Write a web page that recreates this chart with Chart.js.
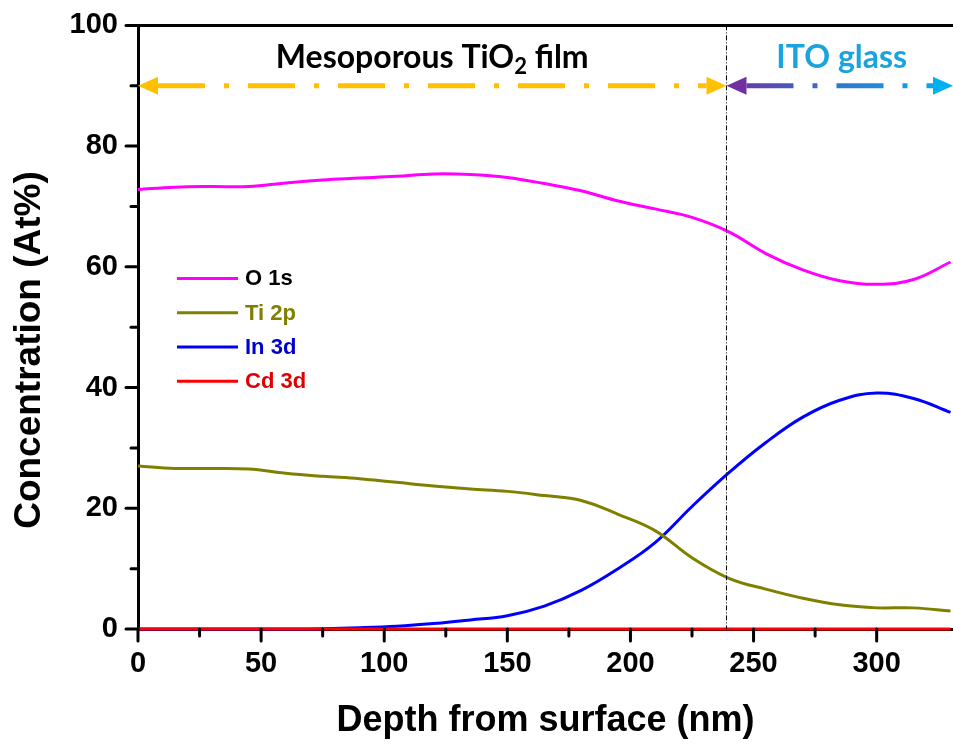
<!DOCTYPE html>
<html>
<head>
<meta charset="utf-8">
<script src="https://cdn.jsdelivr.net/npm/chart.js@4.4.0/dist/chart.umd.min.js"></script>
<style>
  html, body { margin: 0; padding: 0; background: #fff; }
  #wrap { width: 953px; height: 747px; }
</style>
</head>
<body>
<div id="wrap"><canvas id="depthChart"></canvas></div>
<script>
// --- Data ---
const depth = [0, 15, 30, 45, 60, 75, 90, 105, 120, 135, 150, 165, 180, 195, 210, 225, 240, 255, 270, 285, 300, 315, 330];
const o1s   = [72.8, 73.2, 73.3, 73.3, 73.9, 74.4, 74.7, 75.0, 75.4, 75.3, 74.8, 73.8, 72.6, 70.9, 69.6, 68.2, 65.8, 62.2, 59.5, 57.7, 57.1, 57.9, 60.8];
const ti2p  = [27.0, 26.6, 26.6, 26.5, 25.8, 25.3, 24.9, 24.3, 23.7, 23.2, 22.8, 22.1, 21.3, 19.0, 16.3, 11.8, 8.4, 6.6, 5.1, 4.0, 3.5, 3.5, 3.0];
const in3d  = [0, 0, 0, 0, 0, 0.05, 0.2, 0.45, 0.9, 1.5, 2.2, 3.8, 6.4, 10.0, 14.3, 20.3, 25.9, 30.9, 35.1, 37.9, 39.1, 38.2, 35.9];
const cd3d  = [0, 0, 0, 0, 0, 0, 0, 0, 0, 0, 0, 0, 0, 0, 0, 0, 0, 0, 0, 0, 0, 0, 0];
const seriesNames = ['O 1s', 'Ti 2p', 'In 3d', 'Cd 3d'];
const seriesColors = ['#ff00ff', '#808000', '#0000ff', '#ff0000'];
const legendTextColors = ['#000000', '#808000', '#0000d0', '#e00000'];

const xMax = 331;
const interfaceDepth = 239;   // film / ITO boundary
const arrowLevel = 90;        // concentration where the region arrows sit

const toPoints = arr => arr.map((v, i) => ({ x: depth[i], y: v }));

// --- Decorations: ticks, frame, region arrows, legend ---
function drawArrow(ctx, x1, x2, y, stroke, headFill1, headFill2) {
    const head = 20, half = 9;
    ctx.save();
    ctx.lineWidth = 5;
    ctx.strokeStyle = stroke;
    ctx.setLineDash([47, 19, 5, 19]);
    ctx.beginPath();
    ctx.moveTo(x1 + head, y);
    ctx.lineTo(x2 - head, y);
    ctx.stroke();
    ctx.setLineDash([]);
    ctx.fillStyle = headFill1;
    ctx.beginPath();
    ctx.moveTo(x1, y); ctx.lineTo(x1 + head, y - half); ctx.lineTo(x1 + head, y + half); ctx.closePath();
    ctx.fill();
    ctx.fillStyle = headFill2;
    ctx.beginPath();
    ctx.moveTo(x2, y); ctx.lineTo(x2 - head, y - half); ctx.lineTo(x2 - head, y + half); ctx.closePath();
    ctx.fill();
    ctx.restore();
}

const decorations = {
    id: 'decorations',
    afterDraw(chart) {
        const ctx = chart.ctx;
        const xs = chart.scales.x, ys = chart.scales.y;
        const area = chart.chartArea;

        ctx.save();
        ctx.strokeStyle = '#000';
        ctx.lineWidth = 3;
        ctx.lineCap = 'round';
        // tick marks (major long, minor short)
        xs.ticks.forEach(t => {
            const len = t.value % 50 === 0 ? 12 : 7;
            const p = xs.getPixelForValue(t.value);
            ctx.beginPath(); ctx.moveTo(p, area.bottom); ctx.lineTo(p, area.bottom + len); ctx.stroke();
        });
        ys.ticks.forEach(t => {
            const len = t.value % 20 === 0 ? 12 : 7;
            const p = ys.getPixelForValue(t.value);
            ctx.beginPath(); ctx.moveTo(area.left, p); ctx.lineTo(area.left - len, p); ctx.stroke();
        });
        // top frame line
        ctx.lineCap = 'butt';
        ctx.beginPath(); ctx.moveTo(area.left - 1, area.top); ctx.lineTo(area.right, area.top); ctx.stroke();

        // interface marker
        const xi = xs.getPixelForValue(interfaceDepth);
        ctx.lineWidth = 1;
        ctx.setLineDash([5, 2, 1, 2]);
        ctx.beginPath(); ctx.moveTo(xi, area.top); ctx.lineTo(xi, area.bottom); ctx.stroke();
        ctx.setLineDash([]);
        ctx.restore();

        // y axis title, drawn by hand so it can sit a little below centre like the original
        ctx.save();
        ctx.translate(30, 350);
        ctx.rotate(-Math.PI / 2);
        ctx.font = 'bold 37px "Liberation Sans"';
        ctx.fillStyle = '#000';
        ctx.textAlign = 'center';
        ctx.textBaseline = 'middle';
        ctx.fillText('Concentration (At%)', 0, 0);
        ctx.restore();

        // region arrows
        const ya = ys.getPixelForValue(arrowLevel);
        const x0 = xs.getPixelForValue(0);
        const xe = xs.getPixelForValue(xMax);
        drawArrow(ctx, x0, xi, ya, '#ffc000', '#ffc000', '#ffc000');
        const grad = ctx.createLinearGradient(xi, 0, xe, 0);
        grad.addColorStop(0, '#7030a0');
        grad.addColorStop(0.5, '#2f78d0');
        grad.addColorStop(1, '#00b0f0');
        drawArrow(ctx, xi, xe, ya, grad, '#7030a0', '#00b0f0');

        // region labels
        ctx.save();
        ctx.textBaseline = 'alphabetic';
        const big = 'bold 32px Lato';
        const sub = 'bold 22px Lato';
        const parts = [['Mesoporous TiO', big, 0], ['2', sub, 6], [' film', big, 0]];
        let total = 0;
        parts.forEach(p => { ctx.font = p[1]; total += ctx.measureText(p[0]).width; });
        let tx = (x0 + xi) / 2 - total / 2;
        const ty = 68;
        ctx.fillStyle = '#000';
        parts.forEach(p => {
            ctx.font = p[1];
            ctx.fillText(p[0], tx, ty + p[2]);
            tx += ctx.measureText(p[0]).width;
        });
        ctx.font = big;
        ctx.fillStyle = '#1aa3dc';
        ctx.textAlign = 'center';
        ctx.fillText('ITO glass', (xi + xe) / 2 + 2, ty);
        ctx.restore();

        // legend, in the original series order
        ctx.save();
        ctx.font = 'bold 22px "Liberation Sans"';
        ctx.textBaseline = 'middle';
        seriesNames.forEach((name, i) => {
            const y = area.top + 253 + i * 34.3;
            const lx = area.left + 39;
            ctx.strokeStyle = seriesColors[i];
            ctx.lineWidth = 3;
            ctx.beginPath(); ctx.moveTo(lx, y); ctx.lineTo(lx + 61, y); ctx.stroke();
            ctx.fillStyle = legendTextColors[i];
            ctx.fillText(name, lx + 68, y + 1);
        });
        ctx.restore();
    }
};

// --- Chart ---
const ctxDepth = document.getElementById('depthChart').getContext('2d');
const seriesData = [o1s, ti2p, in3d, cd3d];

// draw Cd first so In 3d sits on top of it near zero, as in the original
const drawOrder = [3, 0, 1, 2];

new Chart(ctxDepth, {
    type: 'line',
    data: {
        datasets: drawOrder.map(i => ({
            label: seriesNames[i],
            data: toPoints(seriesData[i]),
            borderColor: seriesColors[i],
            borderWidth: 3,
            pointRadius: 0,
            tension: 0.4,
            fill: false,
            clip: 4
        }))
    },
    options: {
        responsive: true,
        maintainAspectRatio: false,
        animation: false,
        layout: { padding: { top: 25, right: 0, left: 0, bottom: 0 } },
        plugins: {
            legend: { display: false },
            tooltip: { enabled: false }
        },
        scales: {
            x: {
                type: 'linear',
                min: 0,
                max: xMax,
                afterBuildTicks: s => { s.ticks = s.ticks.filter(t => t.value % 25 === 0); },
                afterFit: s => { s.height = 118; },
                grid: { drawOnChartArea: false, tickLength: 12, tickColor: 'transparent' },
                border: { display: true, color: '#000', width: 3 },
                ticks: {
                    stepSize: 25,
                    padding: 6,
                    color: '#000',
                    font: { family: 'Liberation Sans', weight: 'bold', size: 29 },
                    callback: v => (v % 50 === 0 ? v : '')
                },
                title: {
                    display: true,
                    text: 'Depth from surface (nm)',
                    color: '#000',
                    font: { family: 'Liberation Sans', weight: 'bold', size: 36 },
                    padding: 4
                }
            },
            y: {
                min: 0,
                max: 100,
                afterFit: s => { s.width = 138; },
                grid: { drawOnChartArea: false, tickLength: 12, tickColor: 'transparent' },
                border: { display: true, color: '#000', width: 3 },
                ticks: {
                    stepSize: 10,
                    padding: 8,
                    color: '#000',
                    font: { family: 'Liberation Sans', weight: 'bold', size: 29 },
                    callback: v => (v % 20 === 0 ? v : '')
                },
                title: { display: false }
            }
        }
    },
    plugins: [decorations]
});
</script>
</body>
</html>
